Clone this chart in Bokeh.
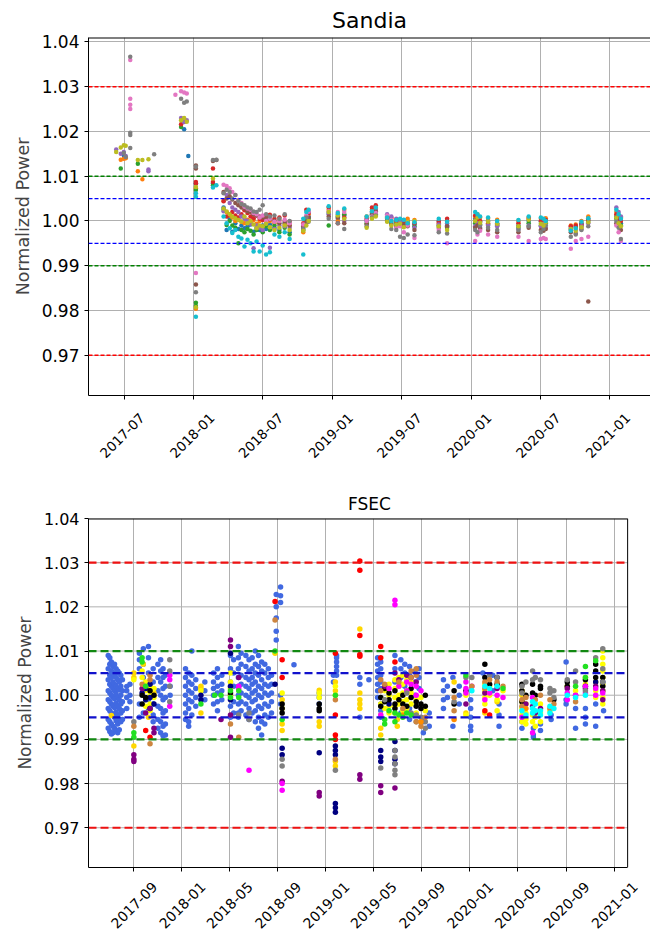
from datetime import datetime
from bokeh.plotting import figure
from bokeh.layouts import column
from bokeh.models import (FixedTicker, CustomJSTickFormatter, PrintfTickFormatter, Span,
                          Range1d, LinearAxis, Grid)
from bokeh.embed import file_html
from bokeh.resources import INLINE

N = None

# ---------------- Sandia data (values in units of 1e-4 around 1.0) ----------------
S_DATES = ["2017-06-10", "2017-06-22", "2017-06-30", "2017-07-05", "2017-07-17", "2017-08-06",
           "2017-08-18", "2017-09-03", "2017-09-18", "2017-11-13", "2017-11-28", "2017-12-06",
           "2017-12-13", "2017-12-17", "2018-01-06", "2018-02-20", "2018-03-01", "2018-03-20",
           "2018-03-28", "2018-04-05", "2018-04-12", "2018-04-20", "2018-04-28", "2018-05-06",
           "2018-05-14", "2018-05-22", "2018-05-30", "2018-06-07", "2018-06-15", "2018-06-23",
           "2018-07-01", "2018-07-10", "2018-07-20", "2018-08-01", "2018-08-14", "2018-08-28",
           "2018-09-10", "2018-10-16", "2018-10-24", "2018-10-30", "2018-12-22", "2019-01-15",
           "2019-02-01", "2019-04-01", "2019-04-15", "2019-04-25", "2019-05-25", "2019-06-05",
           "2019-06-18", "2019-06-28", "2019-07-08", "2019-07-18", "2019-08-05", "2019-10-08",
           "2019-10-30", "2020-01-12", "2020-01-18", "2020-01-25", "2020-02-15", "2020-03-10",
           "2020-05-05", "2020-06-01", "2020-07-03", "2020-07-10", "2020-07-16", "2020-09-20",
           "2020-10-03", "2020-10-18", "2020-11-05", "2021-01-18", "2021-01-24", "2021-01-30"]

s_blue = [N, N, 147, 142, N, N, N, N, N, N, N, 205, N, 145, 84, 84, N,
          30, -20, 5, -24, -5, -18, -10, -16, -12, -8, -24, -15, -20, -10, -18, -8, -15, -20, -5, -25,
          -15, 5, 10, 18, 5, 12, 0, 15, 20, 5, -5, -10, -2, -5, 0, -8, 0, -10,
          5, 10, -2, 0, -5, -10, 0, -2, -8, 0, -15, -12, -5, 5, 10, 0, -5]
s_orange = [N, 137, 139, 140, N, 111, 93, N, N, N, N, N, N, N, (73, -196), N, N,
            45, 20, 12, 8, 0, 5, -2, -5, 3, -3, 2, -6, 0, 4, -4, 0, -5, 2, -8, -10,
            -25, -5, 15, 25, 0, 25, 10, 25, 28, 8, 5, 2, -5, 0, 5, 2, -5, 0,
            10, 15, 8, 5, 3, 0, 8, 5, 2, 6, -10, -8, 0, 10, 20, 12, 8]
s_green = [N, 117, N, N, N, 128, N, N, N, N, 210, N, N, N, (69, -183, -190), 80, N,
           25, -9, 0, -10, -15, -50, -20, -25, -18, -22, -30, -20, -15, -25, -12, -20, -10, -25, -15, -30,
           -20, 0, 5, -10, 10, 15, -5, 12, 15, 2, -2, -5, -8, -10, -4, -12, -10, -15,
           -5, 0, -8, -8, -10, -15, -5, -10, -14, -5, -20, -15, -10, 0, 5, -8, -10]
s_red = [N, N, N, N, N, N, N, N, N, N, 216, N, N, N, (87, 84), (117, 87), N,
         44, 10, 15, 20, 12, 8, 15, 24, 18, 10, 6, 12, 5, 2, 10, 14, 5, 8, 12, -2,
         -5, 25, 18, 30, -5, 8, 5, 30, 35, 10, 8, 0, 3, -2, -6, -5, -2, 5,
         12, 5, 0, -5, -8, -5, 5, 0, -4, 2, -12, -10, -8, 2, 15, 5, 0]
s_purple = [160, 150, 154, 145, N, N, N, (115, 111), N, N, 230, 221, 225, N, N, N, N,
            22, 58, 40, 30, 25, 20, 10, 5, 0, -6, -61, -10, -15, -20, -5, -60, -18, -10, -12, -15,
            -10, 10, 20, 15, 15, 0, 2, 20, 25, 15, 10, 5, -3, 2, -8, -15, -8, -5,
            -12, -5, -15, -10, -12, -18, -10, -12, -6, -15, -18, -20, -12, -5, 30, 20, 10]
s_brown = [N, N, N, N, N, N, N, N, N, N, N, N, N, N, (124, 117, -142), 134, 136,
           65, 50, 55, 48, 40, 35, 30, 28, 22, 20, 15, 12, 10, 8, 6, 4, 0, -5, -2, -10,
           -12, -3, 8, 10, 8, -5, -8, 18, 22, 0, -8, -12, -10, -8, -12, -20, -15, -12,
           -15, -10, -18, -20, -25, -25, -15, -20, -22, -18, -25, -28, -18, -180, -5, -12, -20]
s_pink = [N, N, N, N, (360, 273, 260, 250), N, N, N, N, 282, 290, 287, 285, N, -116, N, N,
          81, 78, 73, 65, 58, 47, 40, 32, 28, 25, 18, 15, 8, 12, 0, 5, -2, 0, 3, -5,
          -8, 12, 22, 22, 20, 20, 0, 10, 18, 12, 2, -15, -12, -25, -10, -38, -20, -50,
          -45, -30, -22, -30, -35, -35, -45, -40, -38, -40, -62, -45, -40, -35, -10, -25, -45]
s_gray = [N, N, 152, 143, (367, 197, 192, 163), N, N, N, 149, N, 273, 264, 267, N, (121, -159), 136, 137,
          62, 70, 65, 50, 58, 45, 38, 35, 30, 28, 21, 20, 25, 35, 15, 10, 12, 5, 15, 0,
          -18, 8, -2, 5, -5, -18, -12, 8, 12, 5, -18, -20, -35, -38, -30, -32, -25, -28,
          -20, -25, -10, -15, -20, -20, -12, -25, -18, -10, -35, -30, -20, -12, 0, -15, -40]
s_olive = [154, 164, 169, 168, N, 136, 136, 138, N, N, 225, 230, 222, N, (76, -193), 95, N,
           28, 21, 15, 10, 6, 2, -1, 10, -5, 0, -8, -16, -10, -12, -6, -14, -20, -15, -10, -20,
           -22, -10, 0, 20, 12, 5, -15, 5, 10, -2, -10, -8, -6, -14, -2, 0, -12, -20,
           0, 8, -4, -2, -6, -12, 3, -6, -10, -3, -18, -22, -14, -3, 8, -5, -12]
s_cyan = [N, N, N, N, N, N, N, N, N, N, N, N, N, N, (62, 54, -214), 75, 80,
          10, -5, -16, -27, -20, -35, -39, -57, -42, -50, -68, -46, -68, -55, -75, -70, -30, -35, -25, -40,
          (-75, 5), 20, 25, 33, 18, 28, 10, 22, 30, 8, 0, 2, 5, 3, -5, -3, 5, -2,
          20, 15, 10, 8, 0, 2, 10, 8, 5, 0, -22, -16, -2, 6, 25, 15, 5]

SANDIA_SERIES = [s_blue, s_orange, s_green, s_red, s_purple, s_brown, s_pink, s_gray, s_olive, s_cyan]
SANDIA_COLORS = ["#1f77b4", "#ff7f0e", "#2ca02c", "#d62728", "#9467bd",
                 "#8c564b", "#e377c2", "#7f7f7f", "#bcbd22", "#17becf"]
S_XTICKS = ["2017-07-01", "2018-01-01", "2018-07-01", "2019-01-01",
            "2019-07-01", "2020-01-01", "2020-07-01", "2021-01-01"]

# ---------------- FSEC data ----------------
f_blue = [("2017-06-28", [90, 60, 35, 10, -10, -30, -55, -75]),
          ("2017-07-02", [85, 70, 45, 25, 5, -15, -35, -60, -82]),
          ("2017-07-06", [75, 55, 40, 20, 0, -20, -40, -65, -88]),
          ("2017-07-10", [65, 50, 30, 15, -5, -25, -45, -70, -85]),
          ("2017-07-14", [70, 45, 25, 10, -8, -28, -50, -75]),
          ("2017-07-18", [60, 40, 20, 2, -18, -38, -58, -80]),
          ("2017-07-22", [55, 35, 15, -5, -25, -45, -65, -85]),
          ("2017-07-26", [50, 30, 12, -10, -30, -55, -78]),
          ("2017-07-30", [45, 20, 0, -20, -40, -60]),
          ("2017-08-03", [35, 10, -15, -35, -55]),
          ("2017-08-14", [20, 10, -5, -30]),
          ("2017-08-22", [25, 0, -15]),
          ("2017-09-15", [95, 80, 60, -20, -50]),
          ("2017-09-25", [105, 70, 40, 10, -40]),
          ("2017-10-08", [110, 85, 50, 20, -10, -30]),
          ("2017-10-20", [60, 30, -20, -45, -60]),
          ("2017-11-01", [70, 40, 10, -25, -55, -75]),
          ("2017-11-08", [80, 55, 30, 0, -30, -60, -85]),
          ("2017-11-14", [60, 40, 15, -10, -40, -70, -92]),
          ("2017-11-20", [45, 20, -5, -35, -65, -90]),
          ("2017-12-02", [20, 0]),
          ("2018-01-10", [60, 40, 20, 0, -20, -40, -55]),
          ("2018-01-18", [50, 30, 10, -10, -30, -60, -70]),
          ("2018-01-26", [100, 45, 25, 5, -15, -45]),
          ("2018-02-05", [35, 15, -5, -25]),
          ("2018-02-28", [30, 10, -10]),
          ("2018-03-22", [50, 30, 15, 0, -20]),
          ("2018-04-01", [60, 40, 20, 5, -15, -35]),
          ("2018-04-12", [45, 25, 10, -10]),
          ("2018-05-04", [90, 60, 30, 0, -25, -50]),
          ("2018-05-12", [80, 50, 20, -15, -40]),
          ("2018-05-24", [110, 85, 60, 40, 20, 0, -20, -40, -50]),
          ("2018-05-31", [95, 70, 45, 25, 5, -15, -35]),
          ("2018-06-12", [90, 65, 40, 20, 0, -20, -45]),
          ("2018-06-20", [80, 55, 35, 15, -5, -30, -55]),
          ("2018-06-28", [85, 60, 40, 25, 5, -15, -40]),
          ("2018-07-06", [100, 70, 50, 30, 10, -10, -35, -60]),
          ("2018-07-14", [90, 65, 45, 20, 0, -25, -50, -75]),
          ("2018-07-22", [75, 55, 35, 15, -5, -30, -60, -90]),
          ("2018-07-30", [70, 50, 25, 5, -20, -45, -65]),
          ("2018-08-08", [60, 40, 20, 0, -25, -50]),
          ("2018-08-16", [45, 25, 5, -15, -40]),
          ("2018-08-28", [228, 200, 175, 145, 125]),
          ("2018-09-08", [245, 225, 210, 0, -20]),
          ("2018-10-12", [69]),
          ("2018-12-15", [5, -5, -20]),
          ("2019-01-20", [45, 30]),
          ("2019-01-28", [90, 85, 75, 65, 55, 45]),
          ("2019-03-28", [40, 25, -50]),
          ("2019-04-20", [35]),
          ("2019-05-12", [85, 70, 55, 40, 25, 10, -5]),
          ("2019-05-20", [75, 60, 45, 30, 15, -20, -35, -50]),
          ("2019-06-25", [90, 60, 30]),
          ("2019-07-10", [80, 60, 40, -40]),
          ("2019-07-20", [70, 50, 20]),
          ("2019-08-01", [65, 45, -30, -55]),
          ("2019-08-15", [55, 30, 0, -45]),
          ("2019-08-25", [60, 40, 15]),
          ("2019-09-05", [-60, -85]),
          ("2019-09-20", [-40, -70]),
          ("2019-10-26", [35, 10, -10, -30]),
          ("2019-11-05", [20, -5]),
          ("2019-11-19", [40, -70]),
          ("2019-12-05", [20, 0, -20]),
          ("2020-01-03", [-10, -30, -50, -70, -80]),
          ("2020-02-03", [50]),
          ("2020-02-28", [45, 10]),
          ("2020-03-15", [-20, -45, -70]),
          ("2020-05-12", [-60, -75]),
          ("2020-06-10", [-75, -90, -95]),
          ("2020-06-28", [-65, -80]),
          ("2020-07-25", [-45, -55]),
          ("2020-09-01", [75, -10, -20]),
          ("2020-09-25", [0, -30, -75]),
          ("2020-10-20", [-30, -50, -65]),
          ("2020-11-15", [-20, -70]),
          ("2020-12-05", [-35])]

f_gold = [("2017-07-06", [-46]), ("2017-09-01", [50, 40, -115]), ("2017-09-25", [70]),
          ("2017-10-08", [-50]), ("2017-10-22", [5]), ("2018-02-18", [20, 15, -40]),
          ("2018-05-04", [15, 0]), ("2018-08-25", [95]), ("2018-09-12", [-10, -65, -80]),
          ("2018-12-15", [11, -60, -70]), ("2019-01-25", [30, 10, -150, -160]),
          ("2019-03-28", [150, 5, -10, -20, -30]), ("2019-05-20", [-75, -90]),
          ("2019-07-01", [-55, -70]), ("2019-11-22", [30]), ("2019-12-22", [-40]),
          ("2020-02-08", [-40]), ("2020-03-10", [-15]), ("2020-05-12", [10, 0])]

f_yellow = [("2017-09-01", [35]), ("2017-09-22", [55, 40]), ("2017-10-01", [30, 10, -10, -25]),
            ("2017-10-12", [20, 0, -20, -35]), ("2017-10-22", [15, -5]), ("2018-02-18", [10]),
            ("2018-05-04", [50, 30]), ("2018-09-12", [5, -30]), ("2018-12-15", [5, -5]),
            ("2019-01-25", [20, 0]), ("2019-05-20", [-20, -45]), ("2019-05-30", [10, -10, -30]),
            ("2019-06-10", [25, 0, -25, -40]), ("2019-06-25", [35, 15, -5, -25, -40]),
            ("2019-07-05", [40, 20, 0, -20]), ("2019-07-15", [45, 25, 5, -15, -35]),
            ("2019-07-25", [35, 10, -10, -30]), ("2019-08-05", [30, 5, -20]),
            ("2019-08-18", [-10, -40]), ("2019-08-30", [-5]), ("2019-09-10", [-35]),
            ("2019-12-22", [0, -45]), ("2020-02-08", [25, 10, -5, -20]), ("2020-02-20", [20, 0]),
            ("2020-03-10", [-10, -35]), ("2020-03-25", [10]), ("2020-05-12", [5, -15, -30, -45, -60]),
            ("2020-05-22", [-20, -40, -55, -65]), ("2020-06-08", [-45, -60]), ("2020-06-15", [-50, -70]),
            ("2020-06-28", [-20, -40, -60]), ("2020-07-22", [-35]), ("2020-09-04", [20]),
            ("2020-09-25", [10]), ("2020-10-20", [40, 25]), ("2020-11-15", [30, 10, -5]),
            ("2020-12-03", [100, 85, 70, 55, 40, 25, 10, -5, -20])]

f_navy = [("2017-09-22", [5]), ("2017-10-01", [15, -10]), ("2017-10-12", [25, -5, -30]),
          ("2017-10-22", [-20]), ("2018-02-18", [0, -10]), ("2018-05-04", [95, 20, -10]),
          ("2018-08-25", [25]), ("2018-09-12", [-120, -135]), ("2018-12-15", [-130]),
          ("2019-01-25", [-115, -125, -135, -245, -255, -265]), ("2019-05-20", [-125, -140, -150]),
          ("2019-06-10", [-20]), ("2019-06-25", [-105, -125, -145, -155]),
          ("2020-11-15", [30]), ("2020-12-03", [30])]

f_black = [("2017-09-22", [0, -20]), ("2017-10-01", [-5]), ("2017-10-12", [10]), ("2017-10-22", [0]),
           ("2018-05-04", [5]), ("2018-09-12", [-20, -30, -40]), ("2018-12-15", [-20, -30, -35]),
           ("2019-05-20", [-5, -25]), ("2019-05-30", [15, -15]), ("2019-06-10", [5, -10]),
           ("2019-06-25", [10, -20, -30]), ("2019-07-05", [-10]), ("2019-07-15", [0, -20]),
           ("2019-07-25", [-25]), ("2019-08-05", [15, -5]), ("2019-08-18", [-15, -25]),
           ("2019-08-30", [-20, -30]), ("2019-09-10", [0, -25]), ("2019-11-22", [10, -20]),
           ("2019-12-22", [10]), ("2020-02-08", [70, 40]), ("2020-02-20", [25]),
           ("2020-03-10", [40, 25]), ("2020-05-12", [25, 10, -15]), ("2020-05-22", [0]),
           ("2020-06-08", [25, 5]), ("2020-06-15", [0]), ("2020-06-28", [15, 20]),
           ("2020-08-01", [-10]), ("2020-09-04", [30, 20]), ("2020-10-20", [35, 20]),
           ("2020-11-15", [70, 55, 40]), ("2020-12-03", [40, 20])]

f_purple = [("2017-09-01", [-135, -145, -150]), ("2017-09-22", [15]), ("2017-10-01", [-40]),
            ("2017-10-12", [-30]), ("2017-10-22", [-75, -85]), ("2018-04-10", [-55]),
            ("2018-05-04", [125, 110, -45, -95]), ("2018-05-25", [40]), ("2018-09-12", [-195]),
            ("2018-12-15", [-220, -228]), ("2019-03-28", [-180, -190]), ("2019-05-20", [-205, -220]),
            ("2019-05-30", [20]), ("2019-06-25", [50, -210]), ("2019-07-05", [35]),
            ("2019-07-25", [45]), ("2019-08-05", [40]), ("2019-08-18", [30]), ("2019-12-22", [-20]),
            ("2020-02-08", [5]), ("2020-03-10", [15]), ("2020-05-22", [-20]), ("2020-06-08", [-25]),
            ("2020-06-15", [-40]), ("2020-06-28", [-30]), ("2020-09-04", [15]), ("2020-10-20", [15]),
            ("2020-11-15", [20]), ("2020-12-03", [10, -10])]

f_magenta = [("2017-12-01", [45, 35, -25]), ("2018-05-25", [20, 15]), ("2018-06-20", [-170]),
             ("2018-09-12", [-200, -215]), ("2019-05-20", [-45]), ("2019-06-10", [15]),
             ("2019-06-25", [215, 205]), ("2019-07-05", [20]), ("2019-07-25", [30, 10]),
             ("2019-08-05", [25]), ("2019-08-18", [20, 0]), ("2019-08-30", [10]),
             ("2019-12-22", [30, 15, 5]), ("2020-01-06", [20]), ("2020-02-08", [-10]),
             ("2020-02-20", [5]), ("2020-03-10", [0]), ("2020-03-25", [-5]), ("2020-05-12", [-50]),
             ("2020-06-08", [-5, -85]), ("2020-09-04", [5, -10]), ("2020-09-25", [0]),
             ("2020-10-20", [20, 5]), ("2020-11-15", [15, 0]), ("2020-12-03", [5])]

f_gray = [("2017-09-01", [-60]), ("2017-12-01", [80, 55, 20, -15]), ("2018-05-25", [-45]),
          ("2018-06-20", [-40, -55]), ("2018-09-12", [-145, -160]), ("2019-01-25", [-170]),
          ("2019-05-20", [-165]), ("2019-05-30", [-10]), ("2019-06-25", [-125, -140, -155, -170, -180]),
          ("2019-07-25", [5]), ("2019-08-05", [-40]), ("2019-08-18", [-45, -60]), ("2019-08-30", [-50]),
          ("2019-09-10", [-60, -75]), ("2019-11-22", [-15]), ("2019-12-22", [40]), ("2020-01-06", [40]),
          ("2020-02-20", [45]), ("2020-03-10", [40]), ("2020-05-12", [20, 5]), ("2020-05-22", [30]),
          ("2020-06-08", [55, 35]), ("2020-06-15", [40]), ("2020-06-28", [35]), ("2020-07-22", [15, 5]),
          ("2020-08-01", [10, -5]), ("2020-09-04", [35]), ("2020-09-25", [55, 30]), ("2020-10-20", [10]),
          ("2020-11-15", [85]), ("2020-12-03", [105, 60, 30])]

f_peru = [("2017-09-01", [-70]), ("2017-09-22", [25]), ("2017-10-12", [35, 45, -110]),
          ("2018-05-04", [-65]), ("2018-05-25", [-95]), ("2018-08-25", [170]), ("2019-01-25", [-10, -145]),
          ("2019-05-20", [35, 10]), ("2019-05-30", [25]), ("2019-07-05", [30]), ("2019-07-15", [-30]),
          ("2019-08-05", [55, 40]), ("2019-08-18", [60, 45, -60]), ("2019-08-30", [-70]),
          ("2019-09-10", [-50]), ("2019-11-22", [-5, -35]), ("2020-01-06", [20]), ("2020-02-08", [30, 15]),
          ("2020-02-20", [35]), ("2020-03-10", [30]), ("2020-03-25", [20]), ("2020-05-12", [-10, -25]),
          ("2020-05-22", [-5]), ("2020-06-15", [-10]), ("2020-06-28", [0]), ("2020-07-22", [-10, -30]),
          ("2020-08-01", [-20]), ("2020-09-25", [-15])]

f_orange = [("2019-07-15", [-45]), ("2019-08-30", [-60]), ("2019-11-22", [-55]), ("2020-05-22", [-30])]

f_lime = [("2017-09-01", [-85, -95]), ("2017-09-22", [85, 75]), ("2017-10-01", [20]), ("2018-02-18", [-20]),
          ("2018-03-25", [0]), ("2018-04-10", [0]), ("2018-05-04", [-5, 10]), ("2018-05-25", [10, -5]),
          ("2018-08-25", [100]), ("2018-09-12", [-55]), ("2019-01-25", [0]), ("2019-05-30", [-55, -65]),
          ("2019-06-10", [-35]), ("2019-06-25", [-40, -60]), ("2019-07-05", [-45]), ("2019-07-15", [-50]),
          ("2019-07-25", [-40]), ("2019-08-05", [-45]), ("2019-12-22", [45]), ("2020-03-25", [15]),
          ("2020-09-25", [20]), ("2020-10-20", [65, 40]), ("2020-11-15", [78])]

f_red = [("2017-10-01", [-80]), ("2017-10-12", [-95]), ("2018-08-25", [212]), ("2018-09-12", [80, 40]),
         ("2019-01-25", [95, -45, -90, -100]), ("2019-03-28", [304, 283, 135, 92, 88]),
         ("2019-05-20", [110, 85]), ("2019-06-25", [75]), ("2020-02-08", [-35]), ("2020-02-20", [-45])]

f_cyan = [("2020-01-06", [10]), ("2020-02-08", [20]), ("2020-02-20", [15]), ("2020-03-10", [20]),
          ("2020-05-12", [-35]), ("2020-05-22", [-45]), ("2020-06-08", [-15, -30, -40]),
          ("2020-06-15", [-20, -35]), ("2020-06-28", [-35, -45]), ("2020-07-22", [-25, -40]),
          ("2020-08-01", [-30]), ("2020-09-04", [0]), ("2020-09-25", [-5]), ("2020-10-20", [0])]

FSEC_SERIES = [f_blue, f_gold, f_yellow, f_navy, f_black, f_purple, f_magenta, f_gray,
               f_peru, f_orange, f_lime, f_red, f_cyan]
FSEC_COLORS = ["#4169e1", "#ffd700", "#ffff00", "#000080", "#000000", "#800080", "#ff00ff",
               "#808080", "#cd853f", "#ff8c00", "#22e022", "#ff0000", "#00ffff"]
F_XTICKS = ["2017-09-01", "2018-01-01", "2018-05-01", "2018-09-01", "2019-01-01", "2019-05-01",
            "2019-09-01", "2020-01-01", "2020-05-01", "2020-09-01", "2021-01-01"]

Y_TICKS = [0.97, 0.98, 0.99, 1.00, 1.01, 1.02, 1.03, 1.04]
LIMIT_LINES = [(1.03, "red"), (0.97, "red"), (1.01, "green"), (0.99, "green"), (1.005, "blue"), (0.995, "blue")]

EPOCH = datetime(1970, 1, 1)


def ms(s):
    return (datetime.strptime(s, "%Y-%m-%d") - EPOCH).total_seconds() * 1000.0


def val(v):
    return 1.0 + v / 10000.0


FONT = "DejaVu Sans"

MONTH_JS = """
const d = new Date(Math.round(tick - shift));
const m = d.getUTCMonth() + 1;
return d.getUTCFullYear() + '-' + (m < 10 ? '0' + m : '' + m);
"""


def style(p, title_size, ytick_size, ylabel_size):
    p.title.align = "center"
    p.title.text_font = FONT
    p.title.text_font_style = "normal"
    p.title.text_font_size = title_size
    p.title.text_color = "black"
    p.yaxis.ticker = FixedTicker(ticks=Y_TICKS)
    p.yaxis.formatter = PrintfTickFormatter(format="%.2f")
    ax = p.yaxis
    ax.minor_tick_line_color = None
    ax.major_tick_in = 0
    ax.major_tick_out = 4
    ax.axis_line_color = "black"
    ax.major_tick_line_color = "black"
    ax.major_label_text_font = FONT
    ax.major_label_text_color = "black"
    ax.major_label_text_font_size = ytick_size
    ax.axis_label = "Normalized Power"
    ax.axis_label_text_font = FONT
    ax.axis_label_text_font_style = "normal"
    ax.axis_label_text_font_size = ylabel_size
    ax.axis_label_standoff = 6
    p.ygrid.grid_line_color = "#b0b0b0"
    p.ygrid.grid_line_width = 1
    p.background_fill_color = "white"
    p.border_fill_color = "white"


def date_axes(p, ticks, shift_px, font_size, standoff, axis_end=None):
    real = [ms(t) for t in ticks]
    shift = shift_px * (p.x_range.end - p.x_range.start) / p.frame_width
    tick_axis = LinearAxis(ticker=FixedTicker(ticks=real),
                           formatter=CustomJSTickFormatter(code="return '';"),
                           major_tick_in=0, major_tick_out=4, minor_tick_line_color=None,
                           axis_line_color="black", major_tick_line_color="black",
                           major_label_standoff=0)
    if axis_end is not None:
        tick_axis.bounds = (p.x_range.start, axis_end)
    label_axis = LinearAxis(ticker=FixedTicker(ticks=[r + shift for r in real]),
                            formatter=CustomJSTickFormatter(args=dict(shift=shift), code=MONTH_JS),
                            axis_line_color=None, major_tick_line_color=None, minor_tick_line_color=None,
                            major_label_orientation=0.785398, major_label_standoff=standoff,
                            major_label_text_font=FONT, major_label_text_font_size=font_size,
                            major_label_text_color="black")
    p.add_layout(tick_axis, "below")
    p.add_layout(label_axis, "below")
    p.add_layout(Grid(dimension=0, ticker=FixedTicker(ticks=real),
                      grid_line_color="#b0b0b0", grid_line_width=1))


# ---------------- Sandia figure ----------------
S_YMIN, S_YMAX = 0.961, 1.041
p1 = figure(frame_width=562, frame_height=358, x_axis_type=None, output_backend="svg",
            toolbar_location=None, title="Sandia",
            min_border_left=88, min_border_right=0, min_border_top=37, min_border_bottom=73,
            x_range=Range1d(ms("2017-03-29"), ms("2021-04-18")), y_range=Range1d(S_YMIN, S_YMAX))
style(p1, "22px", "17px", "17.5px")
date_axes(p1, S_XTICKS, 18, "13.5px", 10)
p1.outline_line_color = None
p1.add_layout(Span(location=S_YMAX, dimension="width", line_color="black", line_width=2))
for series, col in zip(SANDIA_SERIES, SANDIA_COLORS):
    xs, ys = [], []
    for d, v in zip(S_DATES, series):
        if v is None:
            continue
        for u in (v if isinstance(v, tuple) else (v,)):
            xs.append(ms(d))
            ys.append(val(u))
    p1.scatter(xs, ys, size=4.5, fill_color=col, line_color=None)
for loc, col in LIMIT_LINES:
    p1.add_layout(Span(location=loc, dimension="width", line_color=col, line_dash="4 2", line_width=1.3))

# ---------------- FSEC figure ----------------
F_YMIN, F_YMAX = 0.961, 1.040
F_XSTART, F_XEND = ms("2017-05-09"), ms("2021-02-04")
p2 = figure(frame_width=562, frame_height=349, x_axis_type=None, output_backend="svg",
            toolbar_location=None, title="FSEC",
            min_border_left=88, min_border_right=0, min_border_top=50, min_border_bottom=71,
            x_range=Range1d(F_XSTART, ms("2021-04-03")), y_range=Range1d(F_YMIN, F_YMAX))
style(p2, "17px", "16px", "17px")
p2.ygrid.visible = False
p2.outline_line_color = None
date_axes(p2, F_XTICKS, 21, "14px", 7, axis_end=F_XEND)
# horizontal grid lines and frame limited to the visible axes box
p2.segment(x0=[F_XSTART] * len(Y_TICKS), x1=[F_XEND] * len(Y_TICKS), y0=Y_TICKS, y1=Y_TICKS,
           line_color="#b0b0b0", line_width=1)
p2.segment(x0=[F_XSTART], x1=[F_XEND], y0=[F_YMAX], y1=[F_YMAX], line_color="black", line_width=2)
p2.add_layout(Span(location=F_XEND, dimension="height", line_color="black", line_width=1))
for series, col in zip(FSEC_SERIES, FSEC_COLORS):
    xs, ys = [], []
    for d, vals in series:
        for u in vals:
            xs.append(ms(d))
            ys.append(val(u))
    p2.scatter(xs, ys, size=5.5, fill_color=col, line_color=None)
for loc, col in LIMIT_LINES:
    c = {"red": "#ee1111", "green": "#118811", "blue": "#1111cc"}[col]
    p2.segment(x0=[F_XSTART], x1=[F_XEND], y0=[loc], y1=[loc], line_color=c, line_dash="8 4",
               line_width=2.2)

layout = column(p1, p2, spacing=0)
open("out.html", "w").write(file_html(layout, INLINE))
